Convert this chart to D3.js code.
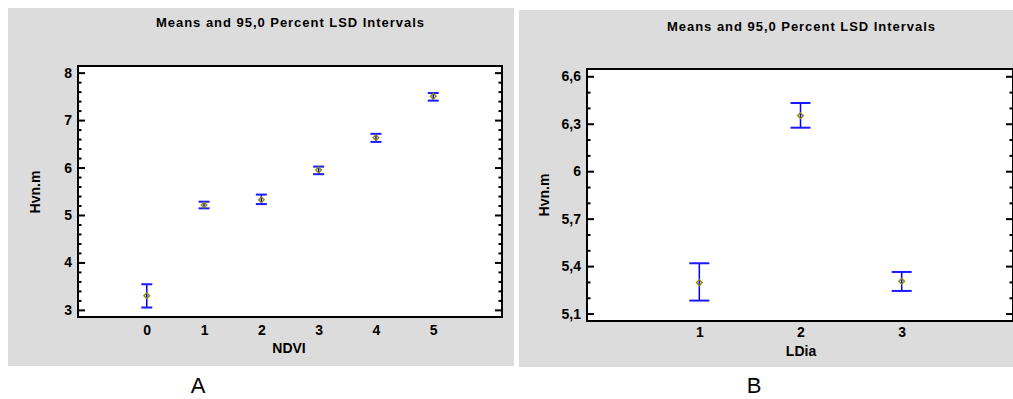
<!DOCTYPE html>
<html>
<head>
<meta charset="utf-8">
<script src="https://cdn.jsdelivr.net/npm/d3@7"></script>
<style>
  html, body { margin: 0; padding: 0; background: #fff; }
  svg text { font-family: "Liberation Sans", Arial, sans-serif; }
</style>
</head>
<body>
<div id="chart"></div>
<script>
const WIDTH = 1013;
const HEIGHT = 399;

const TITLE = "Means and 95,0 Percent LSD Intervals";

// panel A : NDVI
const ndviLevels = [0, 1, 2, 3, 4, 5];
const ndviMeans  = [3.30, 5.21, 5.32, 5.95, 6.63, 7.50];
const ndviLower  = [3.05, 5.14, 5.23, 5.86, 6.54, 7.41];
const ndviUpper  = [3.54, 5.28, 5.43, 6.02, 6.71, 7.57];
const ndviTicks  = [3, 4, 5, 6, 7, 8];

// panel B : LDia
const ldiaLevels = [1, 2, 3];
const ldiaMeans  = [5.296, 6.351, 5.304];
const ldiaLower  = [5.182, 6.275, 5.243];
const ldiaUpper  = [5.418, 6.431, 5.363];
const ldiaTicks  = [5.1, 5.4, 5.7, 6.0, 6.3, 6.6];

const svg = d3.select("#chart").append("svg")
  .attr("width", WIDTH)
  .attr("height", HEIGHT);

const fmt = d => String(d).replace(".", ",");

function drawPanel(p) {
  const g = svg.append("g");

  g.append("rect")
    .attr("x", p.bg[0]).attr("y", p.bg[1])
    .attr("width", p.bg[2]).attr("height", p.bg[3])
    .attr("fill", "#dcdcdc");

  const x = d3.scaleLinear().domain(p.xDomain).range([p.left, p.right]);
  const y = d3.scaleLinear().domain(p.yDomain).range([p.bottom, p.top]);

  g.append("rect")
    .attr("x", p.left).attr("y", p.top)
    .attr("width", p.right - p.left).attr("height", p.bottom - p.top)
    .attr("fill", "#fff");

  // minor ticks
  const minorVals = [];
  for (let i = 0; i < p.ticks.length - 1; i++) {
    const a = p.ticks[i], b = p.ticks[i + 1];
    for (let k = 1; k < p.minorPer; k++) minorVals.push(a + (b - a) * k / p.minorPer);
  }
  g.append("g").attr("transform", `translate(${p.left},0)`)
    .call(d3.axisLeft(y).tickValues(minorVals).tickSize(-3.5).tickFormat(""));
  g.append("g").attr("transform", `translate(${p.right},0)`)
    .call(d3.axisRight(y).tickValues(minorVals).tickSize(-3.5).tickFormat(""));

  // major ticks
  const yl = g.append("g").attr("transform", `translate(${p.left},0)`)
    .call(d3.axisLeft(y).tickValues(p.ticks).tickSize(-7).tickPadding(6).tickFormat(fmt));
  g.append("g").attr("transform", `translate(${p.right},0)`)
    .call(d3.axisRight(y).tickValues(p.ticks).tickSize(-7).tickFormat(""));

  g.selectAll(".domain").remove();
  g.selectAll(".tick line").attr("stroke", "#000").attr("stroke-width", 2);
  yl.selectAll("text")
    .attr("fill", "#000")
    .style("font-size", "14px")
    .style("font-weight", "700");

  // x axis labels (no ticks)
  g.append("g").attr("transform", `translate(0,${p.bottom})`)
    .call(d3.axisBottom(x).tickValues(p.levels).tickSize(0).tickPadding(p.xPad).tickFormat(d3.format("d")))
    .call(a => a.select(".domain").remove())
    .selectAll("text")
    .attr("fill", "#000")
    .style("font-size", "14px")
    .style("font-weight", "700");

  // error bars
  const bars = g.append("g").selectAll("g")
    .data(p.levels.map((lv, i) => ({ lv, m: p.means[i], lo: p.lower[i], hi: p.upper[i] })))
    .join("g");

  bars.append("line")
    .attr("x1", d => x(d.lv)).attr("x2", d => x(d.lv))
    .attr("y1", d => y(d.lo)).attr("y2", d => y(d.hi))
    .attr("stroke", "#0000ff").attr("stroke-width", 1.5);

  ["lo", "hi"].forEach(k => {
    bars.append("line")
      .attr("x1", d => x(d.lv) - p.cap / 2).attr("x2", d => x(d.lv) + p.cap / 2)
      .attr("y1", d => y(d[k])).attr("y2", d => y(d[k]))
      .attr("stroke", "#1a1aff").attr("stroke-width", 2);
  });

  bars.append("path")
    .attr("d", d3.symbol(d3.symbolSquare, 16)())
    .attr("transform", d => `translate(${x(d.lv)},${y(d.m)}) rotate(45)`)
    .attr("fill", "none")
    .attr("stroke", "#8f8a00")
    .attr("stroke-width", 1.4);

  // frame
  g.append("rect")
    .attr("x", p.left).attr("y", p.top)
    .attr("width", p.right - p.left).attr("height", p.bottom - p.top)
    .attr("fill", "none").attr("stroke", "#000").attr("stroke-width", 2);

  // title
  g.append("text")
    .attr("x", p.titleX).attr("y", p.titleY)
    .attr("text-anchor", "middle")
    .attr("textLength", 268).attr("lengthAdjust", "spacing")
    .style("font-size", "13px").style("font-weight", "700")
    .text(TITLE);

  // axis titles
  g.append("text")
    .attr("x", p.xLabelX).attr("y", p.xLabelY)
    .attr("text-anchor", "middle")
    .style("font-size", "14px").style("font-weight", "700")
    .text(p.xLabel);

  g.append("text")
    .attr("transform", `translate(${p.yLabelX},${p.yLabelY}) rotate(-90)`)
    .attr("text-anchor", "middle")
    .style("font-size", "14px").style("font-weight", "700")
    .text("Hvn.m");

  // panel letter
  svg.append("text")
    .attr("x", p.letterX).attr("y", 393)
    .attr("text-anchor", "middle")
    .style("font-size", "22px")
    .text(p.letter);
}

drawPanel({
  bg: [8, 8, 506, 358],
  left: 78, right: 502, top: 66, bottom: 317,
  xDomain: [-1.2, 6.2], yDomain: [2.85, 8.14],
  levels: ndviLevels, means: ndviMeans, lower: ndviLower, upper: ndviUpper,
  ticks: ndviTicks, minorPer: 5, cap: 11, xPad: 8,
  titleX: 290, titleY: 27,
  xLabel: "NDVI", xLabelX: 289, xLabelY: 353,
  yLabelX: 40, yLabelY: 192,
  letter: "A", letterX: 198
});

drawPanel({
  bg: [519, 10, 494, 357],
  left: 587, right: 1013, top: 69, bottom: 321,
  xDomain: [-0.11, 4.1], yDomain: [5.053, 6.646],
  levels: ldiaLevels, means: ldiaMeans, lower: ldiaLower, upper: ldiaUpper,
  ticks: ldiaTicks, minorPer: 3, cap: 20, xPad: 6,
  titleX: 801, titleY: 31,
  xLabel: "LDia", xLabelX: 801, xLabelY: 356,
  yLabelX: 549, yLabelY: 195,
  letter: "B", letterX: 754
});
</script>
</body>
</html>
